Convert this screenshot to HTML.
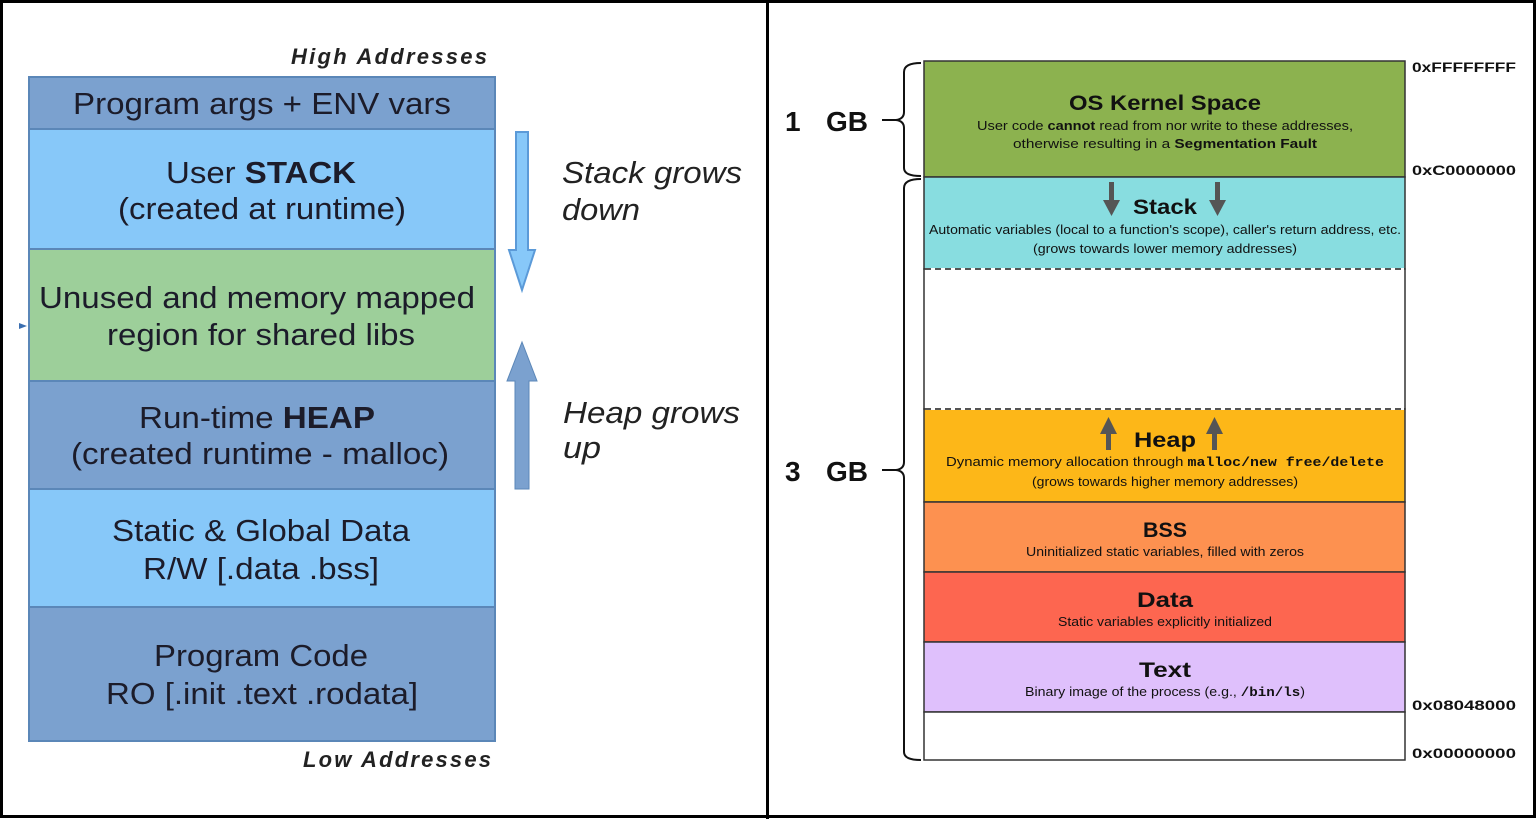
<!DOCTYPE html>
<html><head><meta charset="utf-8"><style>
html,body{margin:0;padding:0;background:#fff}
svg{display:block}
text{font-family:"Liberation Sans",sans-serif}
.m{font-family:"Liberation Mono",monospace}
</style></head><body>
<svg width="1536" height="819" viewBox="0 0 1536 819" xmlns="http://www.w3.org/2000/svg">
<rect x="0" y="0" width="1536" height="819" fill="#fff"/>
<rect x="1.5" y="1.5" width="1533" height="815" fill="none" stroke="#000" stroke-width="3"/>
<rect x="766" y="0" width="3" height="819" fill="#000"/>

<text x="487" y="64" text-anchor="end" font-size="22" font-weight="bold" font-style="italic" fill="#222" textLength="196">High Addresses</text>
<g stroke="#5b87b8" stroke-width="2">
<rect x="29" y="77" width="466" height="52" fill="#7ba1cf"/>
<rect x="29" y="129" width="466" height="120" fill="#87c8f9"/>
<rect x="29" y="249" width="466" height="132" fill="#9dcf9a"/>
<rect x="29" y="381" width="466" height="108" fill="#7ba1cf"/>
<rect x="29" y="489" width="466" height="118" fill="#87c8f9"/>
<rect x="29" y="607" width="466" height="134" fill="#7ba1cf"/>
</g>
<g font-size="31" fill="#1c1c2a" text-anchor="middle">
<text x="262" y="114" textLength="378" lengthAdjust="spacingAndGlyphs">Program args + ENV vars</text>
<text x="261" y="183" textLength="190" lengthAdjust="spacingAndGlyphs">User <tspan font-weight="bold">STACK</tspan></text>
<text x="262" y="219" textLength="288" lengthAdjust="spacingAndGlyphs">(created at runtime)</text>
<text x="257" y="308" textLength="436" lengthAdjust="spacingAndGlyphs">Unused and memory mapped</text>
<text x="261" y="345" textLength="308" lengthAdjust="spacingAndGlyphs">region for shared libs</text>
<text x="257" y="428" textLength="236" lengthAdjust="spacingAndGlyphs">Run-time <tspan font-weight="bold">HEAP</tspan></text>
<text x="260" y="464" textLength="378" lengthAdjust="spacingAndGlyphs">(created runtime - malloc)</text>
<text x="261" y="541" textLength="298" lengthAdjust="spacingAndGlyphs">Static &amp; Global Data</text>
<text x="261" y="579" textLength="236" lengthAdjust="spacingAndGlyphs">R/W [.data .bss]</text>
<text x="261" y="666" textLength="214" lengthAdjust="spacingAndGlyphs">Program Code</text>
<text x="262" y="704" textLength="312" lengthAdjust="spacingAndGlyphs">RO [.init .text .rodata]</text>
</g>
<text x="491" y="767" text-anchor="end" font-size="22" font-weight="bold" font-style="italic" fill="#222" textLength="188">Low Addresses</text>
<polygon points="19,323 27,326 19,329" fill="#3b6fb0"/>
<polygon points="516,132 528,132 528,250 535,250 522,290 509,250 516,250" fill="#87c8f9" stroke="#5b9ad8" stroke-width="2"/>
<polygon points="515,489 529,489 529,381 537,381 522,342 507,381 515,381" fill="#7ba1cf" stroke="#5b87b8" stroke-width="1"/>
<g font-size="31" font-style="italic" fill="#222">
<text x="562" y="183" textLength="180" lengthAdjust="spacingAndGlyphs">Stack grows</text>
<text x="562" y="220" textLength="78" lengthAdjust="spacingAndGlyphs">down</text>
<text x="563" y="423" textLength="177" lengthAdjust="spacingAndGlyphs">Heap grows</text>
<text x="563" y="458" textLength="38" lengthAdjust="spacingAndGlyphs">up</text>
</g>

<g stroke="#333" stroke-width="1.5">
<rect x="924" y="61" width="481" height="116" fill="#8cb24f"/>
<rect x="924" y="177" width="481" height="92" fill="#88dde0"/>
<rect x="924" y="269" width="481" height="140" fill="#fff"/>
<rect x="924" y="409" width="481" height="93" fill="#fdb718"/>
<rect x="924" y="502" width="481" height="70" fill="#fd9150"/>
<rect x="924" y="572" width="481" height="70" fill="#fd6650"/>
<rect x="924" y="642" width="481" height="70" fill="#dfc0fc"/>
<rect x="924" y="712" width="481" height="48" fill="#fff"/>
</g>
<line x1="925" y1="269.5" x2="1404" y2="269.5" stroke="#fff" stroke-width="3"/>
<line x1="925" y1="408.5" x2="1404" y2="408.5" stroke="#fff" stroke-width="3"/>
<line x1="925" y1="269" x2="1404" y2="269" stroke="#555" stroke-width="2" stroke-dasharray="6,4"/>
<line x1="925" y1="409" x2="1404" y2="409" stroke="#555" stroke-width="2" stroke-dasharray="6,4"/>
<g text-anchor="middle" fill="#111">
<text x="1165" y="110" font-size="21" font-weight="bold" textLength="192" lengthAdjust="spacingAndGlyphs">OS Kernel Space</text>
<text x="1165" y="130" font-size="13" textLength="376" lengthAdjust="spacingAndGlyphs">User code <tspan font-weight="bold">cannot</tspan> read from nor write to these addresses,</text>
<text x="1165" y="148" font-size="13" textLength="304" lengthAdjust="spacingAndGlyphs">otherwise resulting in a <tspan font-weight="bold">Segmentation Fault</tspan></text>
<text x="1165" y="214" font-size="21" font-weight="bold" textLength="64" lengthAdjust="spacingAndGlyphs">Stack</text>
<text x="1165" y="234" font-size="13" textLength="472" lengthAdjust="spacingAndGlyphs">Automatic variables (local to a function's scope), caller's return address, etc.</text>
<text x="1165" y="253" font-size="13" textLength="264" lengthAdjust="spacingAndGlyphs">(grows towards lower memory addresses)</text>
<text x="1165" y="447" font-size="21" font-weight="bold" textLength="62" lengthAdjust="spacingAndGlyphs">Heap</text>
<text x="1165" y="466" font-size="13" textLength="438" lengthAdjust="spacingAndGlyphs">Dynamic memory allocation through <tspan class="m" font-weight="bold">malloc/new free/delete</tspan></text>
<text x="1165" y="486" font-size="13" textLength="266" lengthAdjust="spacingAndGlyphs">(grows towards higher memory addresses)</text>
<text x="1165" y="537" font-size="21" font-weight="bold" textLength="44" lengthAdjust="spacingAndGlyphs">BSS</text>
<text x="1165" y="556" font-size="13" textLength="278" lengthAdjust="spacingAndGlyphs">Uninitialized static variables, filled with zeros</text>
<text x="1165" y="607" font-size="21" font-weight="bold" textLength="56" lengthAdjust="spacingAndGlyphs">Data</text>
<text x="1165" y="626" font-size="13" textLength="214" lengthAdjust="spacingAndGlyphs">Static variables explicitly initialized</text>
<text x="1165" y="677" font-size="21" font-weight="bold" textLength="52" lengthAdjust="spacingAndGlyphs">Text</text>
<text x="1165" y="696" font-size="13" textLength="280" lengthAdjust="spacingAndGlyphs">Binary image of the process (e.g., <tspan class="m" font-weight="bold">/bin/ls</tspan>)</text>
</g>
<g fill="#555">
<rect x="1109" y="182" width="5" height="22"/><polygon points="1103,200 1120,200 1111.5,216"/>
<rect x="1215" y="182" width="5" height="22"/><polygon points="1209,200 1226,200 1217.5,216"/>
<rect x="1106" y="432" width="5" height="18"/><polygon points="1100,434 1117,434 1108.5,417"/>
<rect x="1212" y="432" width="5" height="18"/><polygon points="1206,434 1223,434 1214.5,417"/>
</g>
<g class="m" font-size="14" fill="#111" font-weight="bold">
<text x="1412" y="72" textLength="104" lengthAdjust="spacingAndGlyphs">0xFFFFFFFF</text>
<text x="1412" y="175" textLength="104" lengthAdjust="spacingAndGlyphs">0xC0000000</text>
<text x="1412" y="710" textLength="104" lengthAdjust="spacingAndGlyphs">0x08048000</text>
<text x="1412" y="758" textLength="104" lengthAdjust="spacingAndGlyphs">0x00000000</text>
</g>
<path d="M921,63 Q904,63 904,72 L904,112 Q904,119 896,120 Q904,121 904,128 L904,168 Q904,176 921,176" fill="none" stroke="#111" stroke-width="2"/>
<line x1="882" y1="120" x2="897" y2="120" stroke="#111" stroke-width="2"/>
<path d="M921,179 Q904,179 904,188 L904,462 Q904,469 896,470 Q904,471 904,478 L904,752 Q904,760 921,760" fill="none" stroke="#111" stroke-width="2"/>
<line x1="882" y1="470" x2="897" y2="470" stroke="#111" stroke-width="2"/>
<g class="m" font-size="28" fill="#111" font-weight="bold">
<text x="785" y="131">1</text><text x="826" y="131" textLength="42" lengthAdjust="spacingAndGlyphs">GB</text>
<text x="785" y="481">3</text><text x="826" y="481" textLength="42" lengthAdjust="spacingAndGlyphs">GB</text>
</g>
</svg>
</body></html>
